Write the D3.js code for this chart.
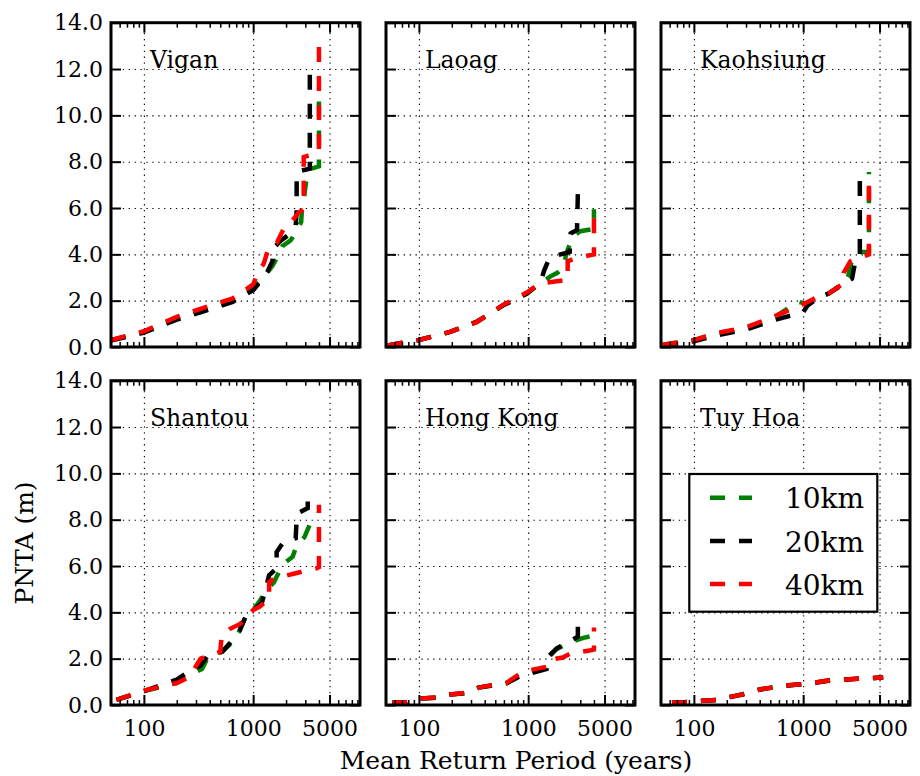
<!DOCTYPE html>
<html><head><meta charset="utf-8">
<script src="https://cdn.jsdelivr.net/npm/d3@7"></script>
<style>
body{margin:0;background:#fff}
text{font-family:"DejaVu Serif",serif;fill:#000}
</style>
</head><body>
<svg id="chart" width="920" height="776"></svg>
<script>
// ---------- data ----------
const stations = ["Vigan","Laoag","Kaohsiung","Shantou","Hong Kong","Tuy Hoa"];
const resolutions = ["10km","20km","40km"];
const seriesColors = ["#008000","#000000","#ff0000"];
const yTickValues = [0,2,4,6,8,10,12,14];
const xTickValues = [100,1000,5000];
const xMinorValues = [60,70,80,90,200,300,400,500,600,700,800,900,2000,3000,4000,6000,7000,8000,9000];

// [mean return period (years), PNTA (m)]
const vigan10 = [[50,0.3],[100,0.65],[200,1.25],[330,1.6],[650,2.0],[1000,2.55],[1300,3.1],[1500,3.5],[1700,3.95],[1850,4.35],[2200,4.6],[2500,5.0],[2750,5.4],[2800,6.0],[2950,6.6],[3100,7.4],[3400,7.7],[4000,7.8],[4000,11.1]];
const vigan20 = [[50,0.28],[100,0.62],[200,1.18],[330,1.5],[650,1.95],[1000,2.45],[1200,2.9],[1350,3.25],[1500,3.7],[1550,4.3],[1800,4.6],[2200,4.9],[2450,5.2],[2500,5.9],[2500,7.5],[2700,7.6],[3300,7.7],[3300,12.2]];
const vigan40 = [[50,0.3],[100,0.68],[200,1.3],[330,1.65],[650,2.1],[1000,2.7],[1100,3.2],[1250,3.6],[1400,4.35],[1650,4.5],[1900,5.1],[2200,5.35],[2600,5.8],[2900,5.95],[2900,8.2],[3400,8.3],[4000,8.4],[4000,12.95]];

const laoag10 = [[52,0.07],[100,0.3],[193,0.65],[340,1.08],[590,1.8],[970,2.3],[1300,2.75],[1600,3.05],[1850,3.2],[2150,3.5],[2200,3.9],[2300,4.2],[2600,4.8],[3000,5.0],[4000,5.1],[4000,5.95]];
const laoag20 = [[52,0.07],[100,0.3],[193,0.65],[340,1.1],[590,1.8],[970,2.3],[1300,2.8],[1400,3.3],[1550,3.8],[1800,3.95],[2400,4.1],[2450,4.9],[2800,5.05],[2850,6.65]];
const laoag40 = [[52,0.07],[100,0.3],[193,0.65],[340,1.08],[590,1.82],[970,2.35],[1300,2.75],[1900,2.85],[2300,2.9],[2300,3.7],[2800,3.85],[4000,4.0],[4000,6.05]];

const kaohsiung10 = [[52,0.1],[100,0.3],[160,0.58],[300,0.82],[530,1.25],[900,1.95],[1100,1.85],[1400,2.2],[1700,2.3],[2400,2.8],[2600,3.1],[2800,3.8],[3300,4.1],[4000,4.1],[4000,7.55]];
const kaohsiung20 = [[52,0.08],[100,0.25],[160,0.5],[300,0.75],[530,1.15],[1000,1.5],[1100,1.8],[1400,2.15],[1700,2.3],[2300,2.7],[2800,2.95],[3000,3.7],[3300,3.85],[3300,7.5]];
const kaohsiung40 = [[52,0.1],[100,0.3],[160,0.6],[300,0.85],[530,1.3],[900,1.75],[1000,1.85],[1400,2.2],[1700,2.3],[2350,2.75],[2350,3.2],[2700,3.7],[3300,3.85],[4000,4.0],[4000,7.4]];

const shantou10 = [[56,0.22],[100,0.6],[200,0.95],[260,1.3],[340,1.55],[380,2.0],[520,2.3],[640,2.7],[750,3.2],[850,3.8],[1000,4.1],[1150,4.5],[1350,5.0],[1550,5.3],[1850,6.05],[2300,6.4],[2500,6.9],[2950,7.25],[3300,7.8],[4000,8.1]];
const shantou20 = [[56,0.22],[100,0.6],[200,1.1],[250,1.4],[330,1.7],[380,2.1],[520,2.3],[620,2.7],[750,3.2],[850,3.8],[1000,4.1],[1200,4.4],[1300,5.0],[1400,5.6],[1640,5.9],[1640,6.6],[1900,7.05],[2450,7.2],[2500,8.0],[2600,8.3],[3160,8.5],[3160,9.3]];
const shantou40 = [[56,0.22],[100,0.62],[200,0.95],[260,1.2],[330,2.0],[500,2.3],[515,3.0],[620,3.3],[760,3.5],[1000,4.1],[1150,4.25],[1400,4.6],[1400,5.3],[1550,5.45],[2500,5.7],[3800,5.9],[4000,5.95],[4000,8.65]];

const hongkong10 = [[57,0.1],[78,0.12],[100,0.28],[146,0.32],[193,0.45],[275,0.52],[350,0.75],[480,0.85],[640,0.95],[810,1.25],[1030,1.4],[1470,1.6],[1500,2.0],[1800,2.4],[2400,2.7],[3200,2.9],[4000,3.0],[4000,3.4]];
const hongkong20 = [[57,0.1],[78,0.12],[100,0.28],[146,0.32],[193,0.45],[275,0.52],[350,0.75],[480,0.85],[640,0.95],[810,1.2],[1030,1.35],[1470,1.55],[1500,2.05],[1830,2.45],[2400,2.75],[2850,2.95],[2850,3.8]];
const hongkong40 = [[57,0.1],[78,0.12],[100,0.28],[146,0.33],[193,0.45],[275,0.53],[350,0.75],[480,0.87],[640,0.97],[810,1.3],[1030,1.5],[1470,1.65],[1570,1.95],[2070,2.05],[2500,2.25],[3650,2.35],[4000,2.4],[4000,3.35]];

const tuyhoa10 = [[63,0.1],[82,0.12],[120,0.18],[160,0.22],[214,0.35],[280,0.47],[400,0.68],[520,0.76],[730,0.85],[1000,0.9],[1340,0.98],[1760,1.08],[2500,1.1],[3300,1.15],[4500,1.17],[5400,1.2]];
const tuyhoa20 = [[63,0.1],[82,0.12],[120,0.18],[160,0.22],[214,0.34],[280,0.45],[400,0.66],[520,0.75],[730,0.84],[1000,0.9],[1340,0.97],[1760,1.06],[2500,1.1],[3300,1.14],[4500,1.17],[5400,1.2]];
const tuyhoa40 = [[63,0.1],[82,0.12],[120,0.18],[160,0.22],[214,0.35],[280,0.46],[400,0.67],[520,0.75],[730,0.85],[1000,0.9],[1340,0.98],[1760,1.07],[2500,1.1],[3300,1.15],[4500,1.17],[5400,1.2]];

const panelSeries = [
  [vigan10, vigan20, vigan40],
  [laoag10, laoag20, laoag40],
  [kaohsiung10, kaohsiung20, kaohsiung40],
  [shantou10, shantou20, shantou40],
  [hongkong10, hongkong20, hongkong40],
  [tuyhoa10, tuyhoa20, tuyhoa40]
];

// ---------- layout ----------
const svg = d3.select("#chart");
const colX = [111, 386, 661];
const rowY = [22.7, 380.7];
const W = 249, H = 324.3;

const x = d3.scaleLog().domain([50, 9500]).range([0, W]);
const y = d3.scaleLinear().domain([0, 14]).range([H, 0]);
const line = d3.line().x(d => x(d[0])).y(d => y(d[1]));

const defs = svg.append("defs");
defs.append("clipPath").attr("id","clip").append("rect").attr("width",W).attr("height",H);

function styleAxis(g, width) {
  g.select(".domain").remove();
  g.selectAll(".tick line").attr("stroke","#000").attr("stroke-width",width);
  g.selectAll(".tick text").attr("font-family","DejaVu Serif").attr("font-size",22).attr("fill","#000");
}

stations.forEach((name, i) => {
  const col = i % 3, row = Math.floor(i / 3);
  const g = svg.append("g").attr("transform", `translate(${colX[col]},${rowY[row]})`);

  // grid
  g.append("g").call(d3.axisLeft(y).tickValues(yTickValues.slice(1,-1)).tickSize(-W).tickFormat(""))
    .call(a => { a.select(".domain").remove(); a.selectAll("line").attr("stroke","#000").attr("stroke-width",1.1).attr("stroke-dasharray","1.3,4.6"); });
  g.append("g").attr("transform",`translate(0,${H})`)
    .call(d3.axisBottom(x).tickValues(xTickValues).tickSize(-H).tickFormat(""))
    .call(a => { a.select(".domain").remove(); a.selectAll("line").attr("stroke","#000").attr("stroke-width",1.1).attr("stroke-dasharray","1.3,4.6"); });

  // series
  const lg = g.append("g").attr("clip-path","url(#clip)");
  panelSeries[i].forEach((data, k) => {
    lg.append("path").datum(data).attr("d", line)
      .attr("fill","none").attr("stroke", seriesColors[k]).attr("stroke-width",4.5)
      .attr("stroke-dasharray","15,14").attr("stroke-linecap","butt");
  });

  // ticks
  g.append("g").call(d3.axisLeft(y).tickValues(yTickValues).tickSize(-10).tickPadding(8)
      .tickFormat(col === 0 ? d3.format(".1f") : ""))
    .call(a => styleAxis(a, 2));
  g.append("g").attr("transform",`translate(${W},0)`)
    .call(d3.axisRight(y).tickValues(yTickValues).tickSize(-10).tickFormat(""))
    .call(a => styleAxis(a, 2));
  g.append("g").attr("transform",`translate(0,${H})`)
    .call(d3.axisBottom(x).tickValues(xTickValues).tickSize(-10).tickPadding(15)
      .tickFormat(row === 1 ? d3.format("d") : ""))
    .call(a => styleAxis(a, 2));
  g.append("g").attr("transform",`translate(0,${H})`)
    .call(d3.axisBottom(x).tickValues(xMinorValues).tickSize(-5).tickFormat(""))
    .call(a => styleAxis(a, 1.5));
  g.append("g").call(d3.axisTop(x).tickValues(xTickValues).tickSize(-10).tickFormat(""))
    .call(a => styleAxis(a, 2));
  g.append("g").call(d3.axisTop(x).tickValues(xMinorValues).tickSize(-5).tickFormat(""))
    .call(a => styleAxis(a, 1.5));

  // frame
  g.append("rect").attr("width",W).attr("height",H).attr("fill","none")
    .attr("stroke","#000").attr("stroke-width",3);

  // station label
  g.append("text").attr("x", 39).attr("y", 45.8).attr("font-size",23.5).text(name);

  // legend in last panel
  if (i === 5) {
    const leg = g.append("g").attr("transform","translate(28.3,93.3)");
    leg.append("rect").attr("width",188).attr("height",137.7).attr("fill","#fff")
      .attr("stroke","#000").attr("stroke-width",2.2);
    resolutions.forEach((r, k) => {
      const ly = 23.7 + k * 43.2;
      leg.append("line").attr("x1",20.7).attr("x2",62.7).attr("y1",ly).attr("y2",ly)
        .attr("stroke",seriesColors[k]).attr("stroke-width",4.5).attr("stroke-dasharray","15,14");
      leg.append("text").attr("x",95.7).attr("y",ly + 10.6).attr("font-size",28).text(r);
    });
  }
});

// axis labels
svg.append("text").attr("x",516).attr("y",769).attr("text-anchor","middle")
  .attr("font-size",25).text("Mean Return Period (years)");
svg.append("text").attr("transform","translate(33,543) rotate(-90)").attr("text-anchor","middle")
  .attr("font-size",25).text("PNTA (m)");
</script>
</body></html>
